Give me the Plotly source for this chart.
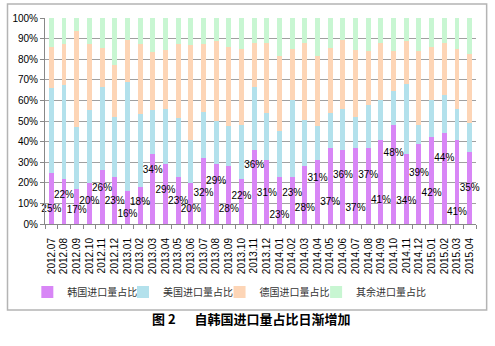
import plotly.graph_objects as go

# Monthly import shares (%), 2012.07 - 2015.04
months = ["2012.07", "2012.08", "2012.09", "2012.10", "2012.11", "2012.12",
          "2013.01", "2013.02", "2013.03", "2013.04", "2013.05", "2013.06",
          "2013.07", "2013.08", "2013.09", "2013.10", "2013.11", "2013.12",
          "2014.01", "2014.02", "2014.03", "2014.04", "2014.05", "2014.06",
          "2014.07", "2014.08", "2014.09", "2014.10", "2014.11", "2014.12",
          "2015.01", "2015.02", "2015.03", "2015.04"]

korea = [25, 22, 17, 20, 26, 23, 16, 18, 34, 29, 23, 20, 32, 29, 28, 22, 36,
         31, 23, 23, 28, 31, 37, 36, 37, 37, 41, 48, 34, 39, 42, 44, 41, 35]
usa = [41, 45.5, 30, 35.5, 40.5, 29, 53, 35.5, 21.5, 27, 28.5, 21, 22.5, 21,
       19.5, 26, 30.5, 23, 22, 37, 22.5, 16.5, 17, 20, 15, 21, 19, 16.5, 34,
       9, 18, 18.5, 15, 14]
germany = [20, 20, 46.5, 32, 19, 25, 20.5, 34, 28, 28.5, 36, 46, 33, 39, 38.5,
           37, 21.5, 34, 36.5, 25, 37.5, 34, 31.5, 33.5, 32.5, 26, 28, 19.5,
           21, 36, 26, 25.5, 29, 33.5]
others = [14, 12.5, 6.5, 12.5, 14.5, 23, 10.5, 12.5, 16.5, 15.5, 12.5, 13,
          12.5, 11, 14, 15, 12, 12, 18.5, 15, 12, 18.5, 14.5, 10.5, 15.5, 16,
          12, 16, 11, 16, 14, 12, 15, 17.5]

series_names = ["韩国进口量占比", "美国进口量占比", "德国进口量占比", "其余进口量占比"]
series_colors = ["#D886F6", "#B3E1EC", "#FDD5B6", "#C8F6D2"]

# Vertical placement of the Korea share labels (in % units)
label_heights = [7, 14, 6.5, 11, 17, 11, 4.5, 10.5, 26, 16.5, 11, 7, 15, 20.5,
                 7, 13.5, 28.5, 15, 4, 15, 7.5, 22, 10.5, 23.5, 7.5, 23.5,
                 11.5, 34, 11, 24.5, 15, 32, 5.5, 17]

legend_ids = ["legend", "legend2", "legend3", "legend4"]
legend_x = [-0.041, 0.181, 0.405, 0.629]

fig = go.Figure()
for name, vals, color, lg in zip(series_names, [korea, usa, germany, others],
                                 series_colors, legend_ids):
    fig.add_trace(go.Bar(x=months, y=vals, name=name, marker_color=color,
                         marker_line_width=0, legend=lg))

# Korea share value labels
fig.add_trace(go.Scatter(x=months, y=label_heights, mode="text",
                         text=[f"{v}%" for v in korea], showlegend=False,
                         hoverinfo="skip", cliponaxis=False,
                         textfont=dict(family="Arial", size=10, color="#000000")))

# Caption below the chart frame
fig.add_annotation(xref="paper", yref="paper", x=0.48, y=-0.515,
                   text="<b>图 2 　 自韩国进口量占比日渐增加</b>", showarrow=False,
                   font=dict(family="Noto Sans CJK SC", size=13, color="#000000"))

# Outer chart frame
fig.add_shape(type="rect", xref="paper", yref="paper",
              x0=-0.087, x1=1.0247, y0=-0.417, y1=1.068,
              line=dict(color="#B4B4B4", width=1.5), layer="below")

legend_font = dict(family="Noto Sans CJK SC", size=10, color="#333333")
legend_layout = {
    lg: dict(orientation="h", x=lx, xanchor="left", y=-0.33, yanchor="middle",
             itemwidth=30, bgcolor="rgba(0,0,0,0)", font=legend_font)
    for lg, lx in zip(legend_ids, legend_x)
}

fig.update_layout(
    width=495, height=346,
    margin=dict(l=39, r=19, t=18, b=122),
    barmode="stack", bargap=0.61,
    plot_bgcolor="white", paper_bgcolor="white",
    font=dict(family="Arial", size=10, color="#000000"),
    showlegend=True,
    xaxis=dict(type="category", tickangle=-90, showgrid=False,
               range=[-0.5, len(months) - 0.5],
               tickmode="linear", dtick=1,
               showline=True, linecolor="#888888", ticks="outside",
               tickson="boundaries", ticklen=4, tickcolor="#888888",
               ticklabelstandoff=9,
               tickfont=dict(family="Arial", size=10)),
    yaxis=dict(range=[0, 100], dtick=10, ticksuffix="%", showgrid=True,
               gridcolor="#A0A0A0", gridwidth=1, showline=True,
               linecolor="#888888", ticks="outside", ticklen=4,
               tickcolor="#888888", zeroline=False,
               tickfont=dict(family="Arial", size=10)),
    **legend_layout,
)

fig.write_html("out.html")
